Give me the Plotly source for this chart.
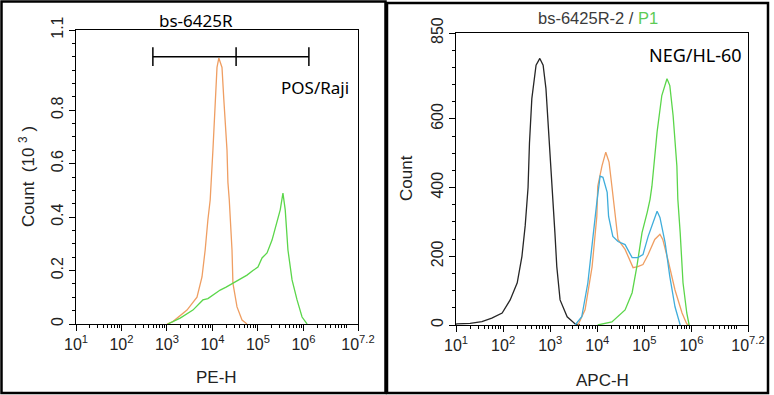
import plotly.graph_objects as go

# ---------------- data (log10 of fluorescence, counts) ----------------
# Left panel: PE-H, Count (10^3)
left_orange_log = [3.00, 3.13, 3.44, 3.66, 3.77, 3.84, 3.90, 3.95, 4.01, 4.06, 4.10, 4.14,
                   4.21, 4.25, 4.32, 4.34, 4.37, 4.43, 4.45, 4.54, 4.65, 4.76]
left_orange_cnt = [0.0, 0.009, 0.052, 0.10, 0.176, 0.277, 0.39, 0.464, 0.65, 0.84, 0.96, 0.995,
                   0.96, 0.84, 0.65, 0.53, 0.464, 0.277, 0.153, 0.064, 0.015, 0.0]
left_green_log = [3.02, 3.29, 3.57, 3.79, 3.90, 4.01, 4.17, 4.30, 4.45, 4.60, 4.76, 4.89, 5.00,
                  5.09, 5.20, 5.31, 5.42, 5.49, 5.55, 5.60, 5.66, 5.75, 5.86, 5.97, 6.08]
left_green_cnt = [0.0, 0.022, 0.052, 0.09, 0.095, 0.108, 0.127, 0.138, 0.153, 0.168, 0.183, 0.20, 0.213,
                  0.247, 0.266, 0.314, 0.378, 0.427, 0.49, 0.427, 0.277, 0.165, 0.09, 0.026, 0.0]
gate_log = [2.69, 4.52, 6.12]
gate_level = 1.0
gate_half = 0.035

# Right panel: APC-H, Count
right_black_log = [1.00, 1.02, 1.30, 1.55, 1.76, 1.98, 2.15, 2.30, 2.40, 2.47, 2.53, 2.56, 2.61, 2.70,
                   2.78, 2.85, 2.91, 2.97, 3.04, 3.07, 3.10, 3.14, 3.21, 3.36, 3.53, 3.63]
right_black_cnt = [2, 3, 5, 10, 20, 35, 73, 123, 200, 290, 400, 530, 659, 756,
                   776, 756, 688, 562, 400, 340, 269, 170, 73, 24, 3, 0]
right_orange_log = [3.59, 3.74, 3.89, 3.99, 4.01, 4.10, 4.18, 4.25, 4.31, 4.38, 4.44, 4.59, 4.76,
                    4.86, 4.97, 5.08, 5.22, 5.33, 5.39, 5.50, 5.65, 5.80, 5.90, 5.95]
right_orange_cnt = [0, 44, 170, 316, 404, 463, 503, 474, 404, 316, 249, 220, 167,
                    170, 176, 205, 249, 264, 249, 190, 102, 35, 3, 0]
right_blue_log = [3.53, 3.67, 3.80, 3.91, 3.99, 4.06, 4.12, 4.21, 4.24, 4.33, 4.44, 4.59, 4.74,
                  4.86, 4.97, 5.08, 5.18, 5.27, 5.33, 5.44, 5.54, 5.65, 5.76]
right_blue_cnt = [0, 24, 123, 269, 357, 433, 430, 386, 316, 258, 243, 234, 196,
                  196, 205, 258, 299, 331, 313, 240, 141, 53, 0]
right_green_log = [4.01, 4.31, 4.59, 4.74, 4.84, 4.95, 5.06, 5.12, 5.16, 5.27, 5.37, 5.48, 5.54,
                   5.61, 5.69, 5.71, 5.76, 5.82, 5.90, 5.95]
right_green_cnt = [0, 9, 44, 94, 170, 269, 328, 366, 404, 562, 668, 717, 697,
                   609, 463, 366, 269, 123, 35, 0]

x_tick_exp = [1, 2, 3, 4, 5, 6, 7.2]
x_tick_text = ["10<sup>1</sup>", "10<sup>2</sup>", "10<sup>3</sup>", "10<sup>4</sup>",
               "10<sup>5</sup>", "10<sup>6</sup>", "10<sup>7.2</sup>"]
left_y_ticks = [0, 0.2, 0.4, 0.6, 0.8, 1.1]
left_y_text = ["0", "0.2", "0.4", "0.6", "0.8", "1.1"]
right_y_ticks = [0, 200, 400, 600, 850]
right_y_text = ["0", "200", "400", "600", "850"]

# ---------------- figure ----------------
W, H = 774, 395
ORANGE = "#EF9E62"
GREEN = "#5BD64A"
BLUE = "#3FADDB"
BLACK = "#262626"


def pw(e):
    return [10 ** v for v in e]


fig = go.Figure()
lw = 1.3
fig.add_trace(go.Scatter(x=pw(left_orange_log), y=left_orange_cnt, mode="lines",
                         line=dict(color=ORANGE, width=lw), xaxis="x", yaxis="y"))
fig.add_trace(go.Scatter(x=pw(left_green_log), y=left_green_cnt, mode="lines",
                         line=dict(color=GREEN, width=lw), xaxis="x", yaxis="y"))
# gate marker
gx = [10 ** gate_log[0], 10 ** gate_log[-1]]
fig.add_trace(go.Scatter(x=gx, y=[gate_level, gate_level], mode="lines",
                         line=dict(color="black", width=1.5), xaxis="x", yaxis="y"))
for g in gate_log:
    fig.add_trace(go.Scatter(x=[10 ** g, 10 ** g], y=[gate_level - gate_half, gate_level + gate_half],
                             mode="lines", line=dict(color="black", width=1.5), xaxis="x", yaxis="y"))

fig.add_trace(go.Scatter(x=pw(right_black_log), y=right_black_cnt, mode="lines",
                         line=dict(color=BLACK, width=lw), xaxis="x2", yaxis="y2"))
fig.add_trace(go.Scatter(x=pw(right_orange_log), y=right_orange_cnt, mode="lines",
                         line=dict(color=ORANGE, width=lw), xaxis="x2", yaxis="y2"))
fig.add_trace(go.Scatter(x=pw(right_green_log), y=right_green_cnt, mode="lines",
                         line=dict(color=GREEN, width=lw), xaxis="x2", yaxis="y2"))
fig.add_trace(go.Scatter(x=pw(right_blue_log), y=right_blue_cnt, mode="lines",
                         line=dict(color=BLUE, width=lw), xaxis="x2", yaxis="y2"))

minor_x = [m * 10 ** k for k in range(1, 8) for m in range(2, 10) if m * 10 ** k < 10 ** 7.2]
tickfont = dict(family="Liberation Sans, Arial, sans-serif", size=16, color="#222")

xcommon = dict(type="log", range=[1, 7.2], tickmode="array", automargin=False,
               tickvals=[10 ** e for e in x_tick_exp], ticktext=x_tick_text,
               ticks="outside", ticklen=6, tickwidth=1, tickcolor="black",
               showline=True, linecolor="black", linewidth=1, mirror=True,
               showgrid=False, zeroline=False, tickfont=tickfont,
               minor=dict(tickmode="array", tickvals=minor_x, ticks="outside",
                          ticklen=3, tickcolor="black", showgrid=False))
ycommon = dict(ticks="outside", ticklen=6, tickwidth=1, tickcolor="black", automargin=False,
               showline=True, linecolor="black", linewidth=1, mirror=True,
               showgrid=False, zeroline=False, tickfont=tickfont, tickangle=-90,
               tickmode="array")


def px(v):
    return v / W


def py(v):
    return 1 - v / H


fig.update_layout(
    width=W, height=H, margin=dict(l=0, r=0, t=0, b=0, pad=0), autosize=False,
    paper_bgcolor="white", plot_bgcolor="white", showlegend=False,
    xaxis=dict(domain=[px(76), px(358)], anchor="y", **xcommon),
    yaxis=dict(domain=[py(324), py(30)], anchor="x", range=[0, 1.1],
               tickvals=left_y_ticks, ticktext=left_y_text,
               minor=dict(dtick=0.05, tick0=0, ticks="outside", ticklen=3,
                          tickcolor="black", showgrid=False), **ycommon),
    xaxis2=dict(domain=[px(456), px(748)], anchor="y2", **xcommon),
    yaxis2=dict(domain=[py(325), py(33)], anchor="x2", range=[0, 850],
                tickvals=right_y_ticks, ticktext=right_y_text,
                minor=dict(dtick=50, tick0=0, ticks="outside", ticklen=3,
                           tickcolor="black", showgrid=False), **ycommon),
)

ann_font = dict(family="Liberation Sans, Arial, sans-serif", size=17, color="#222")
anns = [
    dict(x=px(196), y=py(20), text="bs-6425R",
         font=dict(family="Noto Sans, sans-serif", size=17, color="black")),
    dict(x=px(598), y=py(18), text="bs-6425R-2 / <span style='color:#5CCB55'>P1</span>",
         font=dict(family="Liberation Sans, Arial, sans-serif", size=16.5, color="#3a3a3a")),
    dict(x=px(315), y=py(88), text="POS/Raji",
         font=dict(family="Noto Sans, sans-serif", size=17, color="black")),
    dict(x=px(695), y=py(55), text="NEG/HL-60",
         font=dict(family="Noto Sans, sans-serif", size=18, color="black")),
    dict(x=px(217), y=py(377), text="PE-H", font=ann_font),
    dict(x=px(602), y=py(380), text="APC-H", font=ann_font),
    dict(x=px(27), y=py(177), text="Count  (10 <sup>3</sup> )", textangle=-90, font=ann_font),
    dict(x=px(407), y=py(178), text="Count", textangle=-90, font=ann_font),
]
for a in anns:
    a.update(xref="paper", yref="paper", showarrow=False, xanchor="center", yanchor="middle")
fig.update_layout(annotations=anns)

fig.update_layout(shapes=[
    dict(type="rect", xref="paper", yref="paper", x0=px(1.5), x1=px(385.5), y0=py(393), y1=py(1.5),
         line=dict(color="black", width=2.5)),
    dict(type="rect", xref="paper", yref="paper", x0=px(387), x1=px(768), y0=py(393), y1=py(3),
         line=dict(color="black", width=2.5)),
])

fig.write_html("out.html", config={"displayModeBar": False},
               post_script="document.body.style.margin='0';document.body.style.overflow='hidden';")
